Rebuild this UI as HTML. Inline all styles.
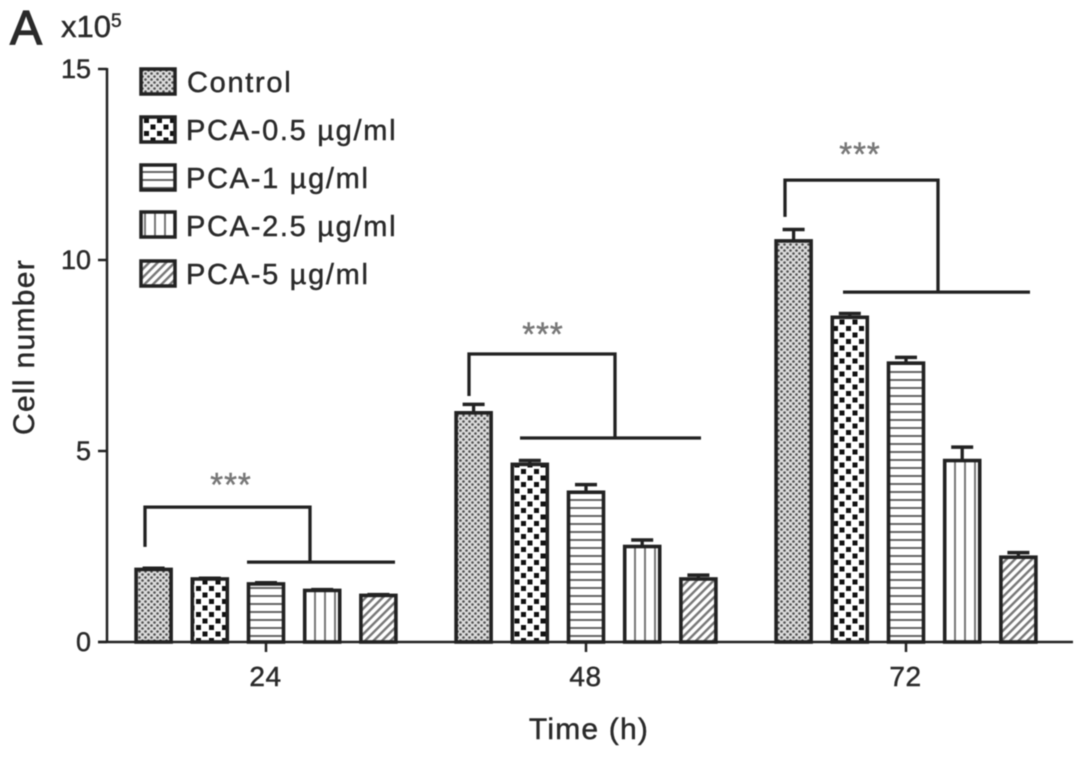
<!DOCTYPE html>
<html lang="en">
<head>
<meta charset="utf-8">
<title>Cell number over time</title>
<style>
html,body{margin:0;padding:0;background:#fff;width:1087px;height:757px;overflow:hidden}
svg{display:block;filter:blur(0.6px)}
text{font-family:"Liberation Sans",sans-serif;fill:#2a2a2a;stroke:#2a2a2a;stroke-width:0.45px}
</style>
</head>
<body>
<svg id="chart" xmlns="http://www.w3.org/2000/svg" width="1087" height="757" viewBox="0 0 1087 757">
<defs>
<pattern id="p0" patternUnits="userSpaceOnUse" width="6" height="6"><rect width="6" height="6" fill="#dcdcdc"/><circle cx="1.5" cy="1.5" r="1.3" fill="#505050"/><circle cx="4.5" cy="4.5" r="1.3" fill="#505050"/></pattern>
<pattern id="p1" patternUnits="userSpaceOnUse" width="13" height="13"><rect width="13" height="13" fill="#fff"/><rect x="1" y="1" width="5" height="5" fill="#111"/><rect x="7.5" y="7.5" width="5" height="5" fill="#111"/></pattern>
<pattern id="p2" patternUnits="userSpaceOnUse" width="8" height="8"><rect width="8" height="8" fill="#fff"/><rect y="3" width="8" height="2" fill="#666"/></pattern>
<pattern id="p3" patternUnits="userSpaceOnUse" width="10" height="10"><rect width="10" height="10" fill="#fff"/><rect x="4" width="2" height="10" fill="#777"/></pattern>
<pattern id="p4" patternUnits="userSpaceOnUse" width="6" height="6" patternTransform="rotate(-45)"><rect width="6" height="6" fill="#fff"/><rect y="2" width="6" height="2.4" fill="#777"/></pattern>
</defs>

<text x="10" y="44" font-size="48" style="stroke-width:1.2px">A</text>
<text x="61" y="37" font-size="31">x10<tspan font-size="19" dy="-10">5</tspan></text>
<text transform="translate(34 347) rotate(-90)" text-anchor="middle" font-size="30" letter-spacing="1.3">Cell number</text>
<text x="589" y="739" text-anchor="middle" font-size="30" letter-spacing="1.2">Time (h)</text>

<g id="marks"></g>

<g font-size="29" letter-spacing="1.7">
  <g><rect x="141" y="69" width="34" height="25" fill="url(#p0)" stroke="#222" stroke-width="3.5"/><text x="187" y="92">Control</text></g>
  <g><rect x="141" y="117" width="34" height="25" fill="url(#p1)" stroke="#222" stroke-width="3.5"/><text x="186" y="140">PCA-0.5 µg/ml</text></g>
  <g><rect x="141" y="165" width="34" height="25" fill="url(#p2)" stroke="#222" stroke-width="3.5"/><text x="186" y="188">PCA-1 µg/ml</text></g>
  <g><rect x="141" y="212" width="34" height="25" fill="url(#p3)" stroke="#222" stroke-width="3.5"/><text x="186" y="236">PCA-2.5 µg/ml</text></g>
  <g><rect x="141" y="261" width="34" height="25" fill="url(#p4)" stroke="#222" stroke-width="3.5"/><text x="186" y="284">PCA-5 µg/ml</text></g>
</g>
</svg>

<script>
const timeLabels = ['24', '48', '72'];
const yTickValues = [0, 5, 10, 15];
const controlValues = [1.9, 6.0, 10.5];
const pca05Values = [1.65, 4.65, 8.5];
const pca1Values = [1.52, 3.92, 7.3];
const pca25Values = [1.35, 2.5, 4.75];
const pca5Values = [1.22, 1.65, 2.22];
const controlErrors = [0.03, 0.22, 0.3];
const pca05Errors = [0.02, 0.1, 0.1];
const pca1Errors = [0.03, 0.2, 0.15];
const pca25Errors = [0.02, 0.17, 0.35];
const pca5Errors = [0.02, 0.1, 0.12];
const bracketTopValues = [3.53, 7.54, 12.09];
const bracketLeftEndValues = [2.49, 6.44, 11.13];
const bracketLowerValues = [2.09, 5.34, 9.16];
const starValues = [4.21, 8.15, 12.87];

const seriesValues = [controlValues, pca05Values, pca1Values, pca25Values, pca5Values];
const seriesErrors = [controlErrors, pca05Errors, pca1Errors, pca25Errors, pca5Errors];

const NS = 'http://www.w3.org/2000/svg';
const root = document.getElementById('marks');
const STROKE = '#222';
const yScale = v => 642 - v * 38.2;
const groupCenter = i => 266 + 320 * i;
const barCenter = (i, s) => groupCenter(i) + (s - 2) * 56.2;
const BAR_W = 35;

function make(tag, attrs, parent) {
  const el = document.createElementNS(NS, tag);
  for (const k in attrs) el.setAttribute(k, attrs[k]);
  (parent || root).appendChild(el);
  return el;
}
function line(x1, y1, x2, y2, w) {
  return make('line', { x1, y1, x2, y2, stroke: STROKE, 'stroke-width': w || 3.3 });
}

// bars and error bars
seriesValues.forEach((values, s) => {
  values.forEach((v, i) => {
    const cx = barCenter(i, s);
    const top = yScale(v);
    const errTop = yScale(v + seriesErrors[s][i]);
    const errStem = line(cx, top, cx, errTop);
    
    
    const errCap = line(cx - 11, errTop, cx + 11, errTop, 3.5);
    
    
    const bar = make('rect', { x: cx - BAR_W / 2, y: top, width: BAR_W, height: yScale(0) - top, fill: 'url(#p' + s + ')', stroke: STROKE, 'stroke-width': 3.6 });
    
    
  });
});

// axes
const xAxis = line(98, yScale(0), 1073, yScale(0), 2.5);


const yAxis = line(107, yScale(0) + 1, 107, yScale(15) - 1, 2.5);



yTickValues.forEach(v => {
  const tick = line(98, yScale(v), 107, yScale(v), 2.5);
  
  
  const label = make('text', { x: 91, y: yScale(v) + 9, 'text-anchor': 'end', 'font-size': 27 });
  label.textContent = v;
  
  
});

timeLabels.forEach((t, i) => {
  const x = groupCenter(i);
  const tick = line(x, yScale(0), x, yScale(0) + 10, 2.5);
  
  
  const label = make('text', { x: x - 0.5, y: 686, 'text-anchor': 'middle', 'font-size': 28, 'letter-spacing': 0.5 });
  label.textContent = t;
  
  
});

// significance brackets, placed per group
const layout = [
  { left: -121, right: 44, lowL: -19, lowR: 129, star: -35 },
  { left: -117, right: 29, lowL: -66, lowR: 115, star: -43 },
  { left: -121, right: 32, lowL: -63, lowR: 124, star: -46 }
];
timeLabels.forEach((t, i) => {
  const c = groupCenter(i), g = layout[i];
  const top = yScale(bracketTopValues[i]);
  const low = yScale(bracketLowerValues[i]);
  const bracket = make('path', {
    d: 'M' + (c + g.left) + ' ' + yScale(bracketLeftEndValues[i]) + 'V' + top + 'H' + (c + g.right) + 'V' + low,
    fill: 'none', stroke: STROKE, 'stroke-width': 3.3
  });
  
  
  const lower = line(c + g.lowL, low, c + g.lowR, low);
  
  
  const stars = make('text', { x: c + g.star, y: yScale(starValues[i]) + 15, 'text-anchor': 'middle', 'font-size': 33, 'letter-spacing': 1 });
  stars.textContent = '***';
  stars.style.fill = '#777';
  stars.style.stroke = '#777';
  
  
});
</script>
</body>
</html>
